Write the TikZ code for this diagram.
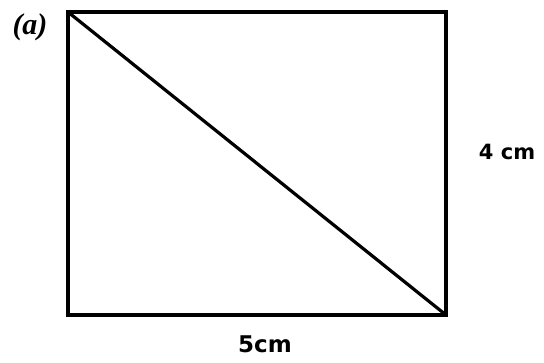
\documentclass[tikz,border=0pt]{standalone}
\usepackage{fontspec}
\setmainfont{Liberation Serif}
\setsansfont{DejaVu Sans}
\begin{document}
\begin{tikzpicture}[x=1pt,y=-1pt,
  edge/.style={line width=3.2pt,line cap=round,line join=miter},
  lbl/.style={font=\sffamily\bfseries\fontsize{22}{24}\selectfont,inner sep=0pt}]
\useasboundingbox (0,0) rectangle (544,362);
\coordinate (tl) at (68,12);
\coordinate (tr) at (446,12);
\coordinate (br) at (446,315);
\coordinate (bl) at (68,315);
\draw[edge] (tl) -- (tr) -- (br) -- (bl) -- cycle;
\draw[edge] (tl) -- (br);
\node[font=\rmfamily\bfseries\itshape\fontsize{30}{32}\selectfont,inner sep=0pt] (a) at (30,27) {(a)};
\node[lbl,font=\sffamily\bfseries\fontsize{21}{24}\selectfont] (h) at (507,152) {4 cm};
\node[lbl,font=\sffamily\bfseries\fontsize{23}{24}\selectfont] (w) at (265,344) {5cm};
\end{tikzpicture}
\end{document}
